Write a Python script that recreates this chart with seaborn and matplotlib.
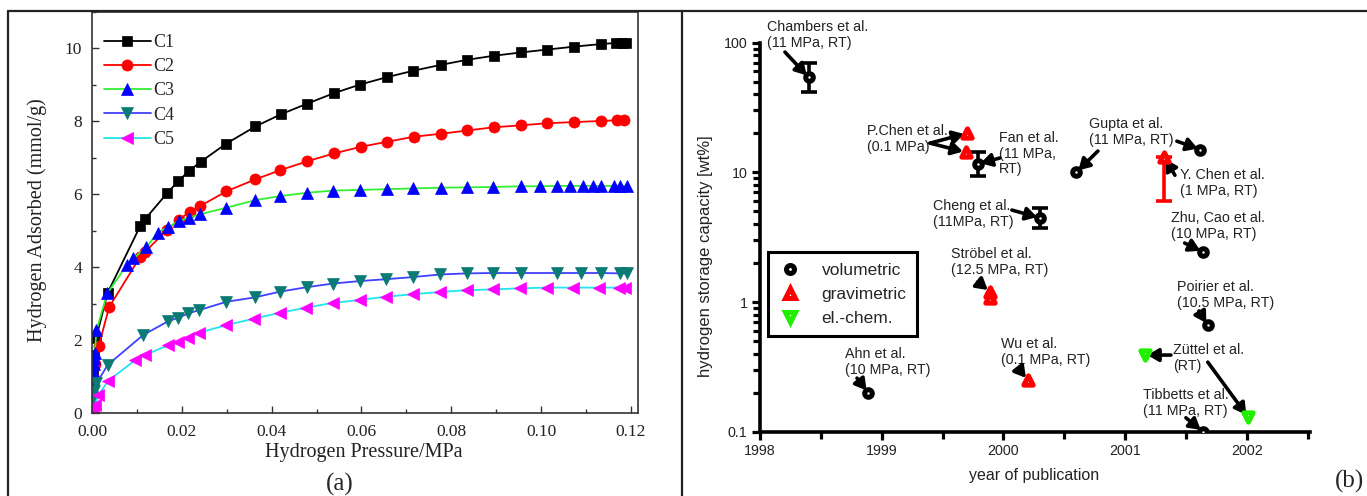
import numpy as np
import pandas as pd
import matplotlib
matplotlib.use("Agg")
import matplotlib.pyplot as plt
from matplotlib.lines import Line2D
from matplotlib.ticker import MultipleLocator, FixedLocator, FuncFormatter, NullFormatter
import seaborn as sns

# ---------------- panel (a) data ----------------
C1_x = [0.0002, 0.0005, 0.0009, 0.0035, 0.0107, 0.0119, 0.0168, 0.0192, 0.0216, 0.0242, 0.0299, 0.0364,
        0.0420, 0.0478, 0.0538, 0.0597, 0.0656, 0.0716, 0.0777, 0.0836, 0.0895, 0.0955, 0.1014, 0.1074,
        0.1133, 0.1167, 0.1181, 0.1190]
C1_y = [1.1, 1.6, 2.05, 3.30, 5.12, 5.33, 6.04, 6.36, 6.64, 6.89, 7.39, 7.86, 8.19, 8.48, 8.77, 9.01, 9.21,
        9.39, 9.55, 9.69, 9.80, 9.89, 9.97, 10.05, 10.12, 10.15, 10.15, 10.15]

C2_x = [0.0003, 0.0007, 0.0015, 0.0038, 0.0107, 0.0118, 0.0168, 0.0193, 0.0218, 0.0240, 0.0299, 0.0364,
        0.0419, 0.0478, 0.0539, 0.0598, 0.0657, 0.0718, 0.0777, 0.0836, 0.0896, 0.0955, 0.1014, 0.1073,
        0.1133, 0.1170, 0.1184]
C2_y = [1.0, 1.35, 1.84, 2.90, 4.28, 4.42, 5.03, 5.30, 5.52, 5.67, 6.08, 6.41, 6.66, 6.90, 7.12, 7.30, 7.44,
        7.58, 7.66, 7.75, 7.84, 7.89, 7.95, 7.98, 8.01, 8.03, 8.03]

C3_x = [0.0001, 0.0002, 0.0003, 0.0004, 0.0005, 0.0006, 0.0010, 0.0034, 0.0077, 0.0092, 0.0121, 0.0146,
        0.0170, 0.0193, 0.0216, 0.0240, 0.0299, 0.0364, 0.0419, 0.0478, 0.0536, 0.0597, 0.0656, 0.0716,
        0.0777, 0.0836, 0.0894, 0.0955, 0.0998, 0.1035, 0.1064, 0.1093, 0.1116, 0.1133, 0.1162, 0.1177, 0.1192]
C3_y = [0.75, 0.95, 1.15, 1.35, 1.5, 1.65, 2.27, 3.28, 4.05, 4.24, 4.54, 4.95, 5.10, 5.26, 5.36, 5.45, 5.63,
        5.84, 5.95, 6.04, 6.10, 6.12, 6.14, 6.16, 6.18, 6.19, 6.20, 6.22, 6.22, 6.23, 6.23, 6.23, 6.23, 6.23,
        6.23, 6.23, 6.23]

C4_x = [0.0002, 0.0004, 0.0010, 0.0035, 0.0114, 0.0170, 0.0192, 0.0214, 0.0238, 0.0299, 0.0362, 0.0419,
        0.0478, 0.0536, 0.0597, 0.0655, 0.0716, 0.0776, 0.0835, 0.0894, 0.0955, 0.1035, 0.1088, 0.1133,
        0.1177, 0.1192]
C4_y = [0.35, 0.6, 0.81, 1.32, 2.14, 2.52, 2.61, 2.73, 2.82, 3.05, 3.17, 3.33, 3.45, 3.55, 3.62, 3.67, 3.73,
        3.80, 3.83, 3.84, 3.84, 3.84, 3.84, 3.84, 3.83, 3.83]

C5_x = [0.0001, 0.0003, 0.0007, 0.0014, 0.0036, 0.0096, 0.0118, 0.0170, 0.0192, 0.0214, 0.0238, 0.0299,
        0.0361, 0.0419, 0.0477, 0.0536, 0.0596, 0.0655, 0.0716, 0.0776, 0.0835, 0.0894, 0.0953, 0.1013,
        0.1071, 0.1130, 0.1174, 0.1188]
C5_y = [0.05, 0.12, 0.22, 0.49, 0.88, 1.45, 1.59, 1.86, 1.95, 2.07, 2.20, 2.41, 2.59, 2.75, 2.89, 3.02, 3.10,
        3.19, 3.26, 3.32, 3.37, 3.39, 3.42, 3.44, 3.44, 3.44, 3.44, 3.44]

series_names = ["C1", "C2", "C3", "C4", "C5"]

# ---------------- panel (b) data ----------------
b_year = [1998.40, 1998.89, 1999.70, 1999.69, 1999.79, 1999.89, 1999.89, 2000.30, 2000.20,
          2000.60, 2001.62, 2001.32, 2001.64, 2001.68, 2001.16, 2002.01, 2001.64]
b_cap = [54, 0.20, 20, 14.3, 11.6, 1.2, 1.08, 4.46, 0.25,
         10.0, 15.0, 13.2, 2.43, 0.66, 0.39, 0.13, 0.10]
b_method = ["volumetric", "volumetric", "gravimetric", "gravimetric", "volumetric", "gravimetric",
            "gravimetric", "volumetric", "gravimetric", "volumetric", "volumetric", "gravimetric",
            "volumetric", "volumetric", "el.-chem.", "el.-chem.", "volumetric"]

# error bars: point index, lower, upper value
err_idx = [0, 4, 7, 11]
err_lo = [42, 9.4, 3.74, 6.05]
err_hi = [70, 14.3, 5.3, 13.2]

note_text = ["Chambers et al.\n(11 MPa, RT)", "P.Chen et al.\n(0.1 MPa)", "Fan et al.\n(11 MPa,\nRT)",
             "Gupta et al.\n(11 MPa, RT)", "Y. Chen et al.\n(1 MPa, RT)", "Cheng et al.\n(11MPa, RT)",
             "Zhu, Cao et al.\n(10 MPa, RT)", "Ströbel et al.\n(12.5 MPa, RT)", "Poirier et al.\n(10.5 MPa, RT)",
             "Ahn et al.\n(10 MPa, RT)", "Wu et al.\n(0.1 MPa, RT)", "Züttel et al.\n(RT)",
             "Tibbetts et al.\n(11 MPa, RT)"]
note_x = [1998.058, 1998.879, 1999.964, 2000.703, 2001.451, 1999.422, 2001.377, 1999.569, 2001.426,
          1998.698, 1999.98, 2001.394, 2001.147]
note_y = [149, 23.5, 20.8, 26.7, 10.8, 6.22, 5.03, 2.66, 1.48, 0.45, 0.537, 0.483, 0.217]

arrow_from_x = [1998.205, 1999.397, 1999.397, 1999.97, 2000.777, 2001.426, 2001.41, 2000.07, 2001.49,
                1999.79, 2001.607, 1998.797, 2000.128, 2001.377, 2001.68, 2001.5]
arrow_from_y = [84.7, 16.8, 16.8, 12.9, 14.6, 17.4, 9.5, 5.12, 2.85, 1.43, 0.853, 0.259, 0.304, 0.39,
                0.344, 0.128]
arrow_to = [0, 2, 3, 4, 9, 10, 11, 7, 12, 5, 13, 1, 8, 14, 15, 16]

# ---------------- figure ----------------
sns.set_theme(style="ticks")
plt.rcParams["font.family"] = ["Liberation Sans", "DejaVu Sans"]
plt.rcParams["axes.facecolor"] = "white"

W, H = 1367, 496
fig = plt.figure(figsize=(W / 100, H / 100), dpi=100)


def fx(px):
    return px / W


def fy(py):
    return 1 - py / H


SERIF = ["Liberation Serif", "DejaVu Serif"]
SANS = ["Liberation Sans", "DejaVu Sans"]

# ---------- panel (a) ----------
axa = fig.add_axes([fx(92), fy(413), fx(638) - fx(92), fy(12) - fy(413)])
style_a = [
    ("s", "black", "black", 7.0),
    ("o", "red", "red", 8.0),
    ("^", "blue", "#33ee33", 8.5),
    ("v", "#0a7a74", "#4040ff", 8.5),
    ("<", "#ff00ff", "#22e5ee", 8.5),
]
data_a = [(C1_x, C1_y), (C2_x, C2_y), (C3_x, C3_y), (C4_x, C4_y), (C5_x, C5_y)]
for name, (xs, ys), (mk, mcol, lcol, ms) in zip(series_names, data_a, style_a):
    sns.lineplot(x=xs, y=ys, ax=axa, estimator=None, sort=False, color=lcol, lw=1.3,
                 marker=mk, markersize=ms, markerfacecolor=mcol, markeredgecolor=mcol,
                 markeredgewidth=0.5, label=name, legend=False)

axa.set_xlim(0, 0.1216)
axa.set_ylim(0, 11)
axa.xaxis.set_major_locator(MultipleLocator(0.02))
axa.xaxis.set_minor_locator(MultipleLocator(0.01))
axa.yaxis.set_major_locator(MultipleLocator(2))
axa.yaxis.set_minor_locator(MultipleLocator(1))
axa.xaxis.set_major_formatter(FuncFormatter(lambda v, p: f"{v:.2f}"))
axa.yaxis.set_major_formatter(FuncFormatter(lambda v, p: f"{v:.0f}"))
axa.tick_params(which="both", direction="in", colors="#333333", width=1.0, labelcolor="#222222")
axa.tick_params(which="major", length=5, labelsize=12.5)
axa.tick_params(axis="x", which="major", pad=8)
axa.tick_params(axis="y", which="major", pad=7)
axa.tick_params(which="minor", length=3)
for lab in axa.get_xticklabels() + axa.get_yticklabels():
    lab.set_family(SERIF)
for sp in axa.spines.values():
    sp.set_color("#333333")
    sp.set_linewidth(1.2)
axa.set_xlabel("Hydrogen Pressure/MPa", family=SERIF, fontsize=14.5, color="#222222")
axa.set_ylabel("Hydrogen Adsorbed (mmol/g)", family=SERIF, fontsize=14.5, color="#222222")
axa.xaxis.set_label_coords(0.498, -0.075)
axa.yaxis.set_label_coords(-0.082, 0.48)
axa.legend(loc="upper left", bbox_to_anchor=(0.022, 0.945), frameon=False, borderpad=0,
           borderaxespad=0, handlelength=2.6, handletextpad=0.15, labelspacing=0.4,
           prop={"family": SERIF, "size": 13})

# ---------- panel (b) ----------
axb = fig.add_axes([fx(760), fy(431.7), fx(1310) - fx(760), fy(42.7) - fy(431.7)])
axb.set_yscale("log")
df_b = pd.DataFrame({"year": b_year, "cap": b_cap, "method": b_method})
style_b = {
    "volumetric": ("o", "black", 30),
    "gravimetric": ("^", "#ff0000", 45),
    "el.-chem.": ("v", "#22ee00", 45),
}
for m, (mk, col, s) in style_b.items():
    sub = df_b[df_b["method"] == m]
    sns.scatterplot(data=sub, x="year", y="cap", ax=axb, marker=mk, s=s, color="white",
                    edgecolor=col, linewidth=3.6, zorder=6, legend=False)

for i, lo, hi in zip(err_idx, err_lo, err_hi):
    c = "red" if b_method[i] == "gravimetric" else "black"
    axb.errorbar([b_year[i]], [b_cap[i]], yerr=[[b_cap[i] - lo], [hi - b_cap[i]]], fmt="none",
                 ecolor=c, elinewidth=2.6, capsize=6, capthick=2.6, zorder=5)

for t, x, y in zip(note_text, note_x, note_y):
    axb.text(x, y, t, ha="left", va="top", fontsize=10.3, family=SANS, color="#222222",
             linespacing=1.15, clip_on=False)

for x0, y0, k in zip(arrow_from_x, arrow_from_y, arrow_to):
    axb.annotate("", xy=(b_year[k], b_cap[k]), xytext=(x0, y0), annotation_clip=False,
                 arrowprops=dict(arrowstyle="-|>,head_length=0.55,head_width=0.32", lw=2.6,
                                 color="black", shrinkA=0, shrinkB=2, mutation_scale=12), zorder=4)

axb.set_xlim(1998, 2002.52)
axb.set_ylim(0.1, 100)
axb.xaxis.set_major_locator(FixedLocator([1998, 1999, 2000, 2001, 2002]))
axb.xaxis.set_minor_locator(FixedLocator([1998.5, 1999.5, 2000.5, 2001.5, 2002.5]))
axb.xaxis.set_major_formatter(FuncFormatter(lambda v, p: f"{v:.0f}"))
axb.yaxis.set_major_locator(FixedLocator([0.1, 1, 10, 100]))
minor_y = [m * 10.0 ** e for e in (-1, 0, 1) for m in range(2, 10)]
axb.yaxis.set_minor_locator(FixedLocator(minor_y))
axb.yaxis.set_major_formatter(FuncFormatter(lambda v, p: f"{v:g}"))
axb.yaxis.set_minor_formatter(NullFormatter())
axb.tick_params(which="both", direction="out", color="black", width=2.3, labelsize=10.3,
                labelcolor="#222222")
axb.tick_params(which="major", length=6, pad=3)
axb.tick_params(which="minor", length=5)
for lab in axb.get_xticklabels() + axb.get_yticklabels():
    lab.set_family(SANS)
axb.spines["top"].set_visible(False)
axb.spines["right"].set_visible(False)
axb.spines["left"].set_linewidth(2.6)
axb.spines["bottom"].set_linewidth(2.6)
axb.spines["left"].set_color("black")
axb.spines["bottom"].set_color("black")
axb.set_xlabel("year of publication", family=SANS, fontsize=11.5, color="#222222")
axb.set_ylabel("hydrogen storage capacity [wt%]", family=SANS, fontsize=12, color="#222222")
axb.xaxis.set_label_coords(0.498, -0.094)
axb.yaxis.set_label_coords(-0.085, 0.452)

handles = [Line2D([], [], ls="none", marker=mk, markersize=np.sqrt(s) * 1.05, markerfacecolor="white",
                  markeredgecolor=col, markeredgewidth=3.6) for mk, col, s in style_b.values()]
leg = axb.legend(handles, list(style_b.keys()), loc="lower left", bbox_to_anchor=(0.014, 0.246),
                 borderaxespad=0, frameon=True, fancybox=False, edgecolor="black", framealpha=1,
                 handlelength=1.4, handletextpad=1.1, labelspacing=0.5, borderpad=0.6,
                 prop={"family": SANS, "size": 12.5})
leg.get_frame().set_linewidth(2.2)

# ---------- outer frame and panel tags ----------
lk = dict(transform=fig.transFigure, color="#222222", lw=1.6)
fig.add_artist(Line2D([fx(8), fx(8)], [fy(11), 0], **lk))
fig.add_artist(Line2D([fx(8), 1], [fy(11), fy(11)], **lk))
fig.add_artist(Line2D([fx(682), fx(682)], [fy(11), 0], **lk))
fig.text(fx(340), fy(484), "(a)", ha="center", va="center", fontsize=18, family=SERIF)
fig.text(fx(1349), fy(481), "(b)", ha="center", va="center", fontsize=18, family=SERIF)

fig.savefig("out.png", dpi=100, facecolor="white")
